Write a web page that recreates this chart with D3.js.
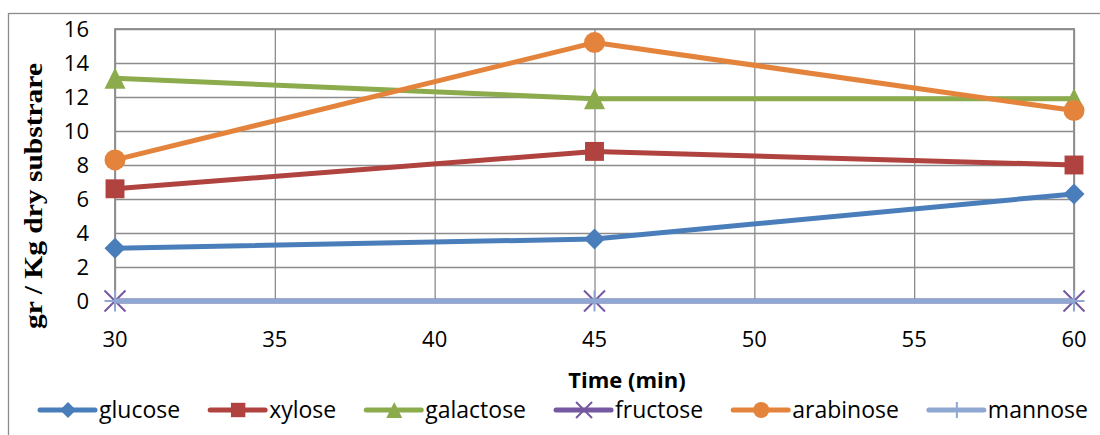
<!DOCTYPE html>
<html>
<head>
<meta charset="utf-8">
<script src="https://cdn.jsdelivr.net/npm/d3@7"></script>
<style>
  body { margin: 0; background: #fff; }
  text { font-family: "Open Sans", Lato, sans-serif; fill: #000; }
</style>
</head>
<body>
<div id="chart"></div>
<script>
// data
const times = [30, 45, 60];
const glucose = [3.1, 3.65, 6.3];
const xylose = [6.6, 8.8, 8.0];
const galactose = [13.1, 11.9, 11.9];
const fructose = [0, 0, 0];
const arabinose = [8.3, 15.2, 11.2];
const mannose = [0, 0, 0];

const xTicks = [30, 35, 40, 45, 50, 55, 60];
const yTicks = [0, 2, 4, 6, 8, 10, 12, 14, 16];

const series = [
  {name: "glucose", values: glucose, color: "#4a7ebb", marker: "diamond"},
  {name: "xylose", values: xylose, color: "#b0433f", marker: "square"},
  {name: "galactose", values: galactose, color: "#8bab4c", marker: "triangle"},
  {name: "fructose", values: fructose, color: "#7558a0", marker: "x"},
  {name: "arabinose", values: arabinose, color: "#e4843c", marker: "circle"},
  {name: "mannose", values: mannose, color: "#8fa8d1", marker: "plus"}
];

const W = 1100, H = 435;
const plot = {left: 115, right: 1074, top: 29, bottom: 301};

const svg = d3.select("#chart").append("svg")
  .attr("width", W)
  .attr("height", H);

// outer chart border
svg.append("rect")
  .attr("x", 8.5).attr("y", 13.5)
  .attr("width", 1100).attr("height", 440)
  .attr("fill", "none")
  .attr("stroke", "#8c8c8c")
  .attr("stroke-width", 1.3);

const x = d3.scaleLinear().domain([30, 60]).range([plot.left, plot.right]);
const y = d3.scaleLinear().domain([0, 16]).range([plot.bottom, plot.top]);

// gridlines
svg.append("g")
  .attr("transform", "translate(0," + plot.bottom + ")")
  .call(d3.axisBottom(x).tickValues(xTicks).tickSize(-(plot.bottom - plot.top)).tickFormat(""))
  .call(g => g.select(".domain").remove())
  .call(g => g.selectAll("line").attr("stroke", "#8c8c8c").attr("stroke-width", 1.3));

svg.append("g")
  .attr("transform", "translate(" + plot.left + ",0)")
  .call(d3.axisLeft(y).tickValues(yTicks).tickSize(-(plot.right - plot.left)).tickFormat(""))
  .call(g => g.select(".domain").remove())
  .call(g => g.selectAll("line").attr("stroke", "#8c8c8c").attr("stroke-width", 1.3));

// plot border
svg.append("rect")
  .attr("x", plot.left).attr("y", plot.top)
  .attr("width", plot.right - plot.left).attr("height", plot.bottom - plot.top)
  .attr("fill", "none")
  .attr("stroke", "#8c8c8c")
  .attr("stroke-width", 1.8);

// tick labels
svg.append("g").selectAll("text")
  .data(yTicks).enter().append("text")
  .attr("x", 89)
  .attr("y", d => y(d) + 8)
  .attr("text-anchor", "end")
  .attr("font-size", 22)
  .text(d => d);

svg.append("g").selectAll("text")
  .data(xTicks).enter().append("text")
  .attr("x", d => x(d))
  .attr("y", 347)
  .attr("text-anchor", "middle")
  .attr("font-size", 22)
  .text(d => d);

// axis titles
svg.append("text")
  .attr("x", 627).attr("y", 388)
  .attr("text-anchor", "middle")
  .attr("font-size", 22)
  .attr("font-weight", "bold")
  .text("Time (min)");

svg.append("text")
  .attr("transform", "translate(42,196) rotate(-90)")
  .attr("text-anchor", "middle")
  .style("font-family", "'Liberation Serif', 'DejaVu Serif', serif")
  .attr("font-size", 26)
  .attr("font-weight", "bold")
  .attr("textLength", 266)
  .attr("lengthAdjust", "spacingAndGlyphs")
  .text("gr / Kg dry substrare");

function drawMarker(g, type, color, cx, cy, s) {
  const h = s / 2;
  if (type === "diamond") {
    g.append("path").attr("d", `M${cx},${cy - h}L${cx + h},${cy}L${cx},${cy + h}L${cx - h},${cy}Z`).attr("fill", color);
  } else if (type === "square") {
    const q = h * 0.9;
    g.append("rect").attr("x", cx - q).attr("y", cy - q).attr("width", 2 * q).attr("height", 2 * q).attr("fill", color);
  } else if (type === "triangle") {
    g.append("path").attr("d", `M${cx},${cy - h}L${cx + h},${cy + h}L${cx - h},${cy + h}Z`).attr("fill", color);
  } else if (type === "circle") {
    g.append("circle").attr("cx", cx).attr("cy", cy).attr("r", h).attr("fill", color);
  } else if (type === "x") {
    g.append("path").attr("d", `M${cx - h},${cy - h}L${cx + h},${cy + h}M${cx - h},${cy + h}L${cx + h},${cy - h}`)
      .attr("stroke", color).attr("stroke-width", 2);
  } else if (type === "plus") {
    g.append("path").attr("d", `M${cx},${cy - h}L${cx},${cy + h}M${cx - h},${cy}L${cx + h},${cy}`)
      .attr("stroke", color).attr("stroke-width", 2);
  }
}

const line = d3.line()
  .x(d => x(d[0]))
  .y(d => y(d[1]));

series.forEach(s => {
  const g = svg.append("g");
  const pts = times.map((t, i) => [t, s.values[i]]);
  g.append("path")
    .datum(pts)
    .attr("d", line)
    .attr("fill", "none")
    .attr("stroke", s.color)
    .attr("stroke-width", 5)
    .attr("stroke-linejoin", "round");
  pts.forEach(p => drawMarker(g, s.marker, s.color, x(p[0]), y(p[1]), 21));
});

// legend
const legend = svg.append("g");
let lx = 40;
const ly = 410;
series.forEach(s => {
  const g = legend.append("g");
  g.append("line")
    .attr("x1", lx).attr("x2", lx + 55)
    .attr("y1", ly).attr("y2", ly)
    .attr("stroke", s.color).attr("stroke-width", 5)
    .attr("stroke-linecap", "round");
  drawMarker(g, s.marker, s.color, lx + 28, ly, 16);
  const t = g.append("text")
    .attr("x", lx + 59).attr("y", ly + 8)
    .attr("font-size", 23)
    .text(s.name);
  lx += 59 + t.node().getComputedTextLength() + 30;
});
</script>
</body>
</html>
